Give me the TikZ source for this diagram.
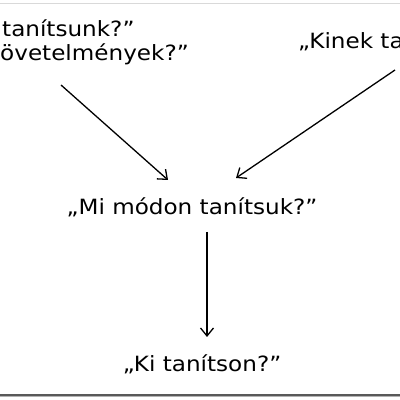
\documentclass[tikz,border=0pt]{standalone}
\usepackage{fontspec}
\setmainfont{DejaVu Sans}[FakeStretch=1.1]
\usetikzlibrary{arrows.meta}
\begin{document}
\begin{tikzpicture}[x=1pt,y=1pt,
  lbl/.style={inner sep=0pt,font=\fontsize{21}{24}\selectfont},
  arr/.style={line width=1.3pt,-{Straight Barb[length=8pt,width=13pt,line width=1.3pt]}}]
\useasboundingbox (0,0) rectangle (400,400);
\fill[white] (0,0) rectangle (400,400);
\draw[line width=1pt,black!15] (0,396) -- (400,396);
\draw[line width=2pt,black!65] (0,5) -- (400,5);
\draw[line width=1pt,black!30] (0,3) -- (400,3);
\node[lbl,anchor=base west] (tl1) at (2,363) {tanítsunk?”};
\node[lbl,anchor=base west] (tl2) at (0,339) {övetelmények?”};
\node[lbl,anchor=base west] (kin) at (298,351) {„Kinek ta};
\node[lbl,anchor=base] (mid) at (192,185) {„Mi módon tanítsuk?”};
\node[lbl,anchor=base] (ki) at (202,28) {„Ki tanítson?”};
\coordinate (a1s) at (61,315);
\coordinate (a1e) at (168,220);
\coordinate (a2s) at (395,330);
\coordinate (a2e) at (236,222);
\coordinate (a3s) at (207,168);
\coordinate (a3e) at (207,63);
\draw[arr] (a1s) -- (a1e);
\draw[arr] (a2s) -- (a2e);
\draw[arr] (a3s) -- (a3e);
\end{tikzpicture}
\end{document}
